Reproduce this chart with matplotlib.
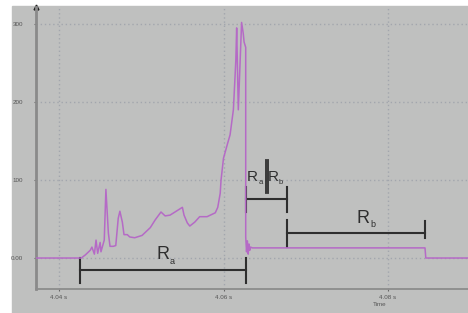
import matplotlib

matplotlib.use("Agg")
import matplotlib.pyplot as plt
from matplotlib.patches import Rectangle

plt.rcParams["font.family"] = ["Liberation Sans", "DejaVu Sans"]
plt.rcParams["mathtext.default"] = "regular"

# signal (time in s, value)
t_sig = [4.0372, 4.0427, 4.0432, 4.0438, 4.0440, 4.0443, 4.0445, 4.0447, 4.0450,
         4.0451, 4.0455, 4.0457, 4.0460, 4.0462, 4.0466, 4.0469, 4.0472, 4.0474,
         4.0477, 4.0479, 4.0483, 4.0486, 4.0492, 4.0501, 4.0511, 4.0517, 4.0524,
         4.0529, 4.0535, 4.0550, 4.0552, 4.0556, 4.0559, 4.0565, 4.0571, 4.0580,
         4.0590, 4.0593, 4.0596, 4.0597, 4.0600, 4.0605, 4.0608, 4.0612, 4.0614,
         4.0615, 4.0616, 4.0618, 4.0622, 4.0624, 4.0625, 4.0627, 4.0627, 4.0628,
         4.0629, 4.0630, 4.0631, 4.0632, 4.0633, 4.0635, 4.0845, 4.0846, 4.0897]
v_sig = [0, 0, 4, 10, 14, 5, 23, 6, 20,
         8, 23, 88, 32, 15, 15, 16, 51, 60,
         46, 30, 30, 27, 26, 29, 39, 49, 59,
         54, 55, 65, 55, 45, 41, 46, 53, 53,
         58, 65, 83, 100, 128, 147, 158, 190, 232,
         254, 295, 190, 302, 288, 277, 270, 27, 8,
         22, 5, 18, 10, 14, 13, 13, 0, 0]

yticks = [0, 100, 200, 300]
ytick_labels = ["0.00", "100", "200", "300"]
xticks = [4.04, 4.06, 4.08]
xtick_labels = ["4.04 s", "4.06 s", "4.08 s"]

# bracket ends (time)
t_ra0, t_ra1 = 4.04255, 4.06274
t_rb0, t_rb1 = 4.06772, 4.08450

BG = "#bfc0bf"
INK = "#2e2e2e"
PURPLE = "#b56ac6"


def label_r(ax, x, y, sub, size):
    # big R with a small, low subscript, like the annotated original
    ax.annotate("R", (x, y), fontsize=size, color=INK, ha="right", va="center")
    ax.annotate(sub, (x, y), xytext=(0.3, -size * 0.35), textcoords="offset points",
                fontsize=size * 0.5, color=INK, ha="left", va="center")


fig = plt.figure(figsize=(4.68, 3.13), dpi=100, facecolor="white")
fig.patches.append(Rectangle((12 / 468, 0), 456 / 468, 307 / 313,
                             transform=fig.transFigure, color=BG, zorder=-10))
ax = fig.add_axes([36 / 468, 24 / 313, 432 / 468, 282 / 313])
ax.set_facecolor(BG)
ax.set_xlim(4.0372, 4.08973)
ax.set_ylim(-39.7, 321.8)

ax.set_axisbelow(True)
ax.grid(True, color="#a2a6ad", linestyle=(0, (1, 2)), linewidth=1)

ax.plot(t_sig, v_sig, color=PURPLE, lw=1.1, zorder=3)

# Ra bracket
ax.plot([t_ra0, t_ra1], [-15.4, -15.4], color=INK, lw=1.5)
ax.plot([t_ra0, t_ra0], [0, -32], color=INK, lw=1.5)
ax.plot([t_ra1, t_ra1], [0, -32], color=INK, lw=1.5)
label_r(ax, 4.0534, 4, "a", 13)

# Ra||Rb bracket
ax.plot([t_ra1, t_rb0], [75.6, 75.6], color=INK, lw=1.5)
ax.plot([t_ra1, t_ra1], [91, 59], color=INK, lw=1.5)
ax.plot([t_rb0, t_rb0], [91, 59], color=INK, lw=1.5)
ax.plot([4.06517, 4.06517], [125.6, 83.3], color=INK, lw=1.3)
ax.plot([4.06541, 4.06541], [125.6, 83.3], color=INK, lw=1.3)
label_r(ax, 4.06418, 104, "a", 11)
label_r(ax, 4.06668, 104, "b", 11)

# Rb bracket
ax.plot([t_rb0, t_rb1], [32, 32], color=INK, lw=1.5)
ax.plot([t_rb0, t_rb0], [48.7, 14.1], color=INK, lw=1.5)
ax.plot([t_rb1, t_rb1], [47.4, 25.6], color=INK, lw=1.5)
label_r(ax, 4.0778, 51, "b", 13)

for s in ["top", "right"]:
    ax.spines[s].set_visible(False)
ax.spines["left"].set_color("#8a8a8a")
ax.spines["left"].set_linewidth(2)
ax.spines["bottom"].set_color("#8c8c8c")
ax.spines["bottom"].set_linewidth(1.3)
ax.plot([0], [1.0], marker="^", color="#222222", markersize=3.5,
        transform=ax.transAxes, clip_on=False)

ax.set_yticks(yticks)
ax.set_yticklabels(ytick_labels)
ax.set_xticks(xticks)
ax.set_xticklabels(xtick_labels)
ax.tick_params(axis="y", length=1.5, color="#666666", pad=8, labelsize=4.5,
               labelcolor="#555555")
ax.tick_params(axis="x", length=1.5, color="#666666", pad=3, labelsize=4.5,
               labelcolor="#555555")
fig.text(380 / 468, 1 - 305 / 313, "Time", fontsize=4.5, color="#555555",
         ha="center", va="center")

fig.savefig("out.png", dpi=100, facecolor=fig.get_facecolor())
